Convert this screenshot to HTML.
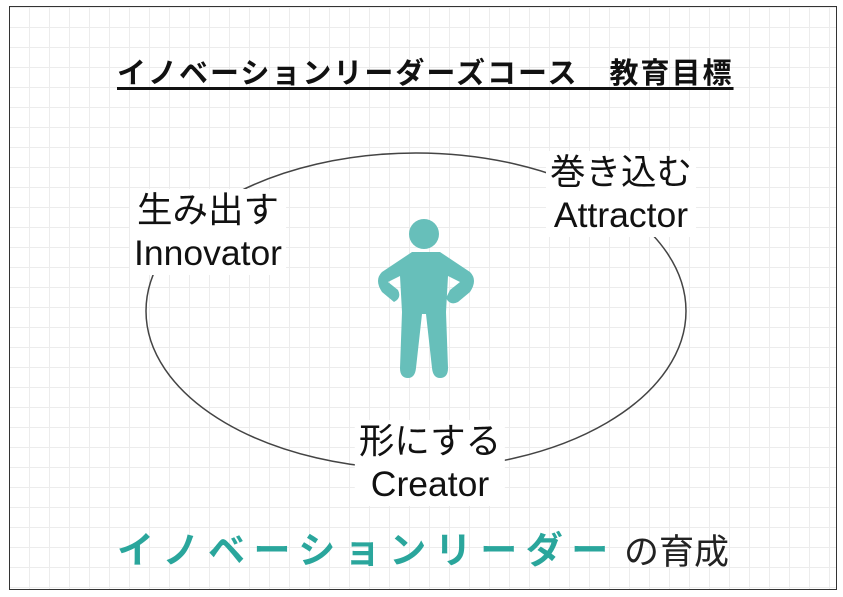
<!DOCTYPE html>
<html><head><meta charset="utf-8"><style>
body{margin:0;width:843px;height:597px;background:#fff;position:relative;overflow:hidden;font-family:"Liberation Sans","Noto Sans CJK JP",sans-serif}
.frame{position:absolute;left:9px;top:6px;width:828px;height:584px;border:1.5px solid #333;box-sizing:border-box;
background-image:linear-gradient(#ececec 1px,transparent 1px),linear-gradient(90deg,#ececec 1px,transparent 1px);background-size:20px 20px;background-position:-1px 0px}
.t{position:absolute;white-space:nowrap;color:#111}
.lbl{position:absolute;background:#fff;text-align:center;font-size:35.5px;line-height:43px;color:#111;padding:0 4px;transform:translateX(-50%);white-space:nowrap}
</style></head><body>
<div class="frame"></div>
<svg width="843" height="597" style="position:absolute;left:0;top:0">
<ellipse cx="416" cy="311" rx="270" ry="158" fill="none" stroke="#444" stroke-width="1.5"/>
<g fill="#67bfba">
<circle cx="424" cy="234" r="15"/>
<path d="M412 252 L440 252 L470 272 Q478 280 470 292 L458 302 Q450 306 446 298 L450 290 L460 282 L448 276 L446 312 L448 368 Q448 378 440 378 Q433 378 432 368 L426 314 L422 314 L416 368 Q415 378 408 378 Q400 378 400 368 L402 312 L400 276 L388 282 L398 290 Q402 298 394 302 L382 292 Q374 280 382 272 Z"/>
</g>
</svg>
<div class="t" style="left:117px;top:50px;font-size:29px;font-weight:bold;text-decoration:underline;text-decoration-thickness:3px;text-underline-offset:4px;letter-spacing:2px">イノベーションリーダーズコース　教育目標</div>
<div class="lbl" style="left:208px;top:189px">生み出す<br>Innovator</div>
<div class="lbl" style="left:621px;top:151px">巻き込む<br>Attractor</div>
<div class="lbl" style="left:430px;top:420px">形にする<br>Creator</div>
<div class="t" style="left:117px;top:520px;font-size:37px;font-weight:bold;color:#2aa69c;letter-spacing:8.5px">イノベーションリーダー</div>
<div class="t" style="left:624px;top:524px;font-size:35px;color:#222">の育成</div>
</body></html>
